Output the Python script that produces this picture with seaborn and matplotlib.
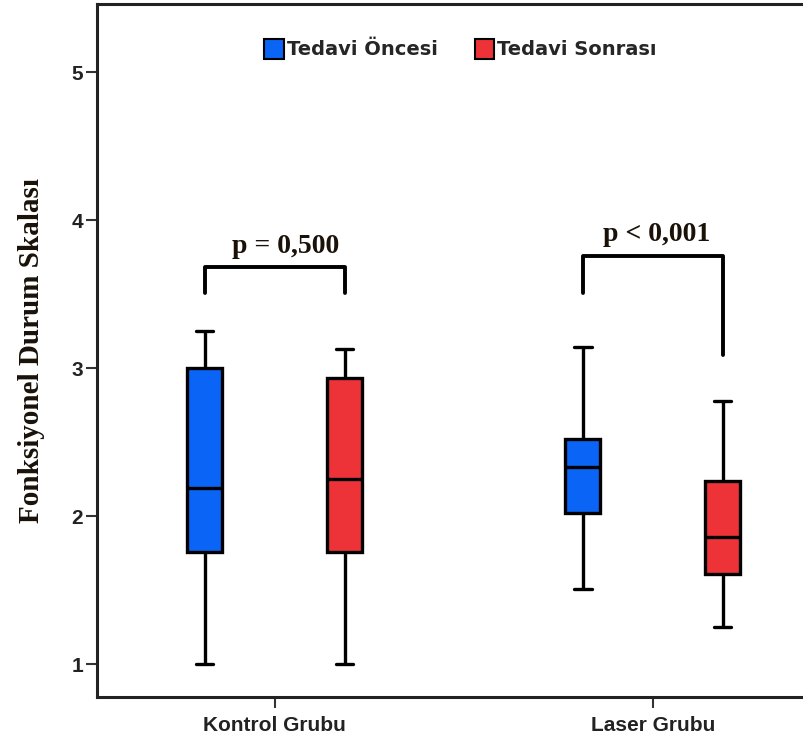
import numpy as np
import pandas as pd
import matplotlib
matplotlib.use('Agg')
import matplotlib.pyplot as plt
import seaborn as sns
from matplotlib.patches import Patch

groups = ['Kontrol Grubu', 'Laser Grubu']
phases = ['Tedavi Öncesi', 'Tedavi Sonrası']
colors = ['#0a64f5', '#ee3338']

# five-number summaries: min, Q1, median, Q3, max
kontrol_oncesi = [1.00, 1.76, 2.19, 3.00, 3.25]
kontrol_sonrasi = [1.00, 1.76, 2.25, 2.93, 3.13]
laser_oncesi = [1.51, 2.02, 2.33, 2.52, 3.14]
laser_sonrasi = [1.25, 1.61, 1.86, 2.24, 2.78]

p_labels = ['p = 0,500', 'p < 0,001']


def make_frame():
    """Long table with one row per summary point"""
    rows = []
    for g, p, vals in [(groups[0], phases[0], kontrol_oncesi),
                       (groups[0], phases[1], kontrol_sonrasi),
                       (groups[1], phases[0], laser_oncesi),
                       (groups[1], phases[1], laser_sonrasi)]:
        for v in vals:
            rows.append({'Grup': g, 'Tedavi': p, 'Skor': v})
    return pd.DataFrame(rows)


df = make_frame()

sns.set_style('white')
fig = plt.figure(figsize=(8.04, 7.42), dpi=100)
ax = fig.add_axes([0.1206, 0.0606, 0.8794, 0.934])

sns.boxplot(x='Grup', y='Skor', hue='Tedavi', data=df, order=groups,
            hue_order=phases, palette=colors, whis=(0, 100), width=0.74,
            gap=0.75, linewidth=2.4, linecolor='black', saturation=1,
            showfliers=False, legend=False, ax=ax)

ax.set_xlim(-0.47, 1.40)
ax.set_ylim(0.777, 5.46)
ax.set_yticks([1, 2, 3, 4, 5])

for side in ['left', 'bottom', 'top']:
    ax.spines[side].set_linewidth(2.2)
    ax.spines[side].set_color('#222222')
ax.spines['right'].set_visible(False)
ax.tick_params(axis='both', left=True, bottom=True, length=8, width=1.5,
               color='#333333', direction='out')
ax.tick_params(axis='x', pad=6)
ax.tick_params(axis='y', pad=2)

tick_font = ['Liberation Sans Narrow', 'Liberation Sans', 'DejaVu Sans']
for lab in ax.get_xticklabels() + ax.get_yticklabels():
    lab.set_family(tick_font)
    lab.set_fontweight('bold')
    lab.set_fontsize(15)
    lab.set_color('#222222')

ax.set_xlabel('')
ax.set_ylabel('Fonksiyonel Durum Skalası', family='Liberation Serif',
              fontweight='bold', fontsize=21, color='#1a1208', labelpad=19)

# significance brackets
offset = 0.185
ax.plot([0 - offset, 0 - offset, 0 + offset, 0 + offset],
        [3.51, 3.68, 3.68, 3.51], color='black', lw=2.8)
ax.plot([1 - offset, 1 - offset, 1 + offset, 1 + offset],
        [3.51, 3.76, 3.76, 3.09], color='black', lw=2.8)
ax.text(0.03, 3.735, p_labels[0], ha='center', va='bottom', family='Liberation Serif',
        fontweight='bold', fontsize=20, color='#1a1208')
ax.text(1.01, 3.815, p_labels[1], ha='center', va='bottom', family='Liberation Serif',
        fontweight='bold', fontsize=20, color='#1a1208')

handles = [Patch(facecolor=c, edgecolor='black', linewidth=1.5) for c in colors]
ax.legend(handles, phases, loc='upper center', bbox_to_anchor=(0.514, 0.975),
          ncol=2, frameon=False, handlelength=1.0, handleheight=1.2,
          handletextpad=0.15, columnspacing=1.9,
          prop={'family': 'DejaVu Sans', 'weight': 'bold', 'size': 14})

plt.savefig('out.png', dpi=100)
